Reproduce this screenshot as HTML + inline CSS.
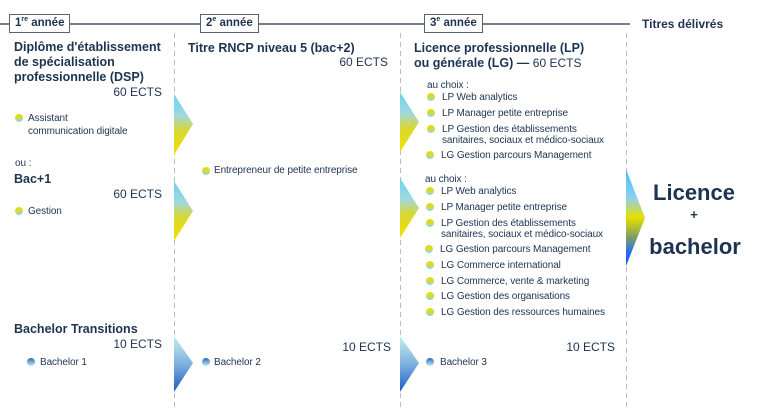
<!DOCTYPE html>
<html><head><meta charset="utf-8"><style>
body{margin:0;width:763px;height:409px;background:#fff;position:relative;overflow:hidden;font-family:"Liberation Sans",sans-serif;color:#1d3352}
.t{position:absolute;white-space:nowrap;line-height:14px}
.h{font-weight:bold;font-size:12.5px;line-height:15px}
.e{font-size:12px}
.i{font-size:10px;line-height:11px;letter-spacing:-0.1px}
.d{position:absolute;width:8px;height:8px;border-radius:50%;background:linear-gradient(#e6dc00 0%,#d8dc30 45%,#8fd3f0 100%)}
.b{background:linear-gradient(#2d69b9,#bfeef0)}
.box{position:absolute;border:1.5px solid #5a6270;background:#fff;font-size:11.5px;font-weight:bold;height:19px;line-height:16px;padding:0 5px;box-sizing:border-box;color:#1d3352}
</style></head><body>
<svg width="763" height="409" style="position:absolute;left:0;top:0">
<defs>
<linearGradient id="gy" x1="0" y1="0" x2="0" y2="1"><stop offset="0" stop-color="#6cd0f5"/><stop offset="0.35" stop-color="#9fd8e0"/><stop offset="0.6" stop-color="#d8d830"/><stop offset="1" stop-color="#f0e000"/></linearGradient>
<linearGradient id="gb" x1="0" y1="0" x2="0" y2="1"><stop offset="0" stop-color="#c4f0ea"/><stop offset="0.5" stop-color="#7fb0e0"/><stop offset="1" stop-color="#1c5cc0"/></linearGradient>
<linearGradient id="gf" x1="0" y1="0" x2="0" y2="1"><stop offset="0" stop-color="#40c0f8"/><stop offset="0.3" stop-color="#8fd0f0"/><stop offset="0.5" stop-color="#e6e000"/><stop offset="0.7" stop-color="#80a060"/><stop offset="0.85" stop-color="#2a70e8"/><stop offset="1" stop-color="#1050f0"/></linearGradient>
</defs>
<line x1="0" y1="24" x2="630" y2="24" stroke="#4a5568" stroke-width="1.5"/>
<g stroke="#bbb" stroke-dasharray="5,4" stroke-width="1">
<line x1="174.5" y1="33" x2="174.5" y2="409"/><line x1="400.5" y1="33" x2="400.5" y2="409"/><line x1="626.5" y1="33" x2="626.5" y2="409"/></g>
<polygon points="174,94 193,124 174,155" fill="url(#gy)"/>
<polygon points="174,181 193,211 174,241" fill="url(#gy)"/>
<polygon points="400,92 419,122 400,152" fill="url(#gy)"/>
<polygon points="400,178 419,208 400,238" fill="url(#gy)"/>
<polygon points="174,336 193,363 174,392" fill="url(#gb)"/>
<polygon points="400,336 419,363 400,392" fill="url(#gb)"/>
<polygon points="626,169 645,218 626,266" fill="url(#gf)"/>
</svg>
<div class="box" style="left:9px;top:14px">1<sup style="font-size:7px;line-height:0">re</sup> année</div>
<div class="box" style="left:200px;top:14px">2<sup style="font-size:7px;line-height:0">e</sup> année</div>
<div class="box" style="left:424px;top:14px">3<sup style="font-size:7px;line-height:0">e</sup> année</div>
<div class="t h" style="left:642px;top:17px;font-size:12px">Titres délivrés</div>

<div class="t h" style="left:14px;top:40px;line-height:15px">Diplôme d'établissement<br>de spécialisation<br>professionnelle (DSP)</div>
<div class="t e" style="right:601px;top:85px">60 ECTS</div>
<div class="d" style="left:15px;top:114px"></div>
<div class="t i" style="left:28px;top:112px;line-height:13px">Assistant<br>communication digitale</div>
<div class="t i" style="left:15px;top:158px">ou :</div>
<div class="t h" style="left:14px;top:172px">Bac+1</div>
<div class="t e" style="right:601px;top:187px">60 ECTS</div>
<div class="d" style="left:15px;top:207px"></div>
<div class="t i" style="left:28px;top:206px">Gestion</div>

<div class="t h" style="left:188px;top:41px">Titre RNCP niveau 5 (bac+2)</div>
<div class="t e" style="right:375px;top:55px">60 ECTS</div>
<div class="d" style="left:202px;top:167px"></div>
<div class="t i" style="left:214px;top:165px">Entrepreneur de petite entreprise</div>

<div class="t h" style="left:414px;top:41px;line-height:15px">Licence professionnelle (LP)<br>ou générale (LG) — <span style="font-weight:normal;font-size:12px">60 ECTS</span></div>
<div class="t i" style="left:427px;top:80px">au choix :</div>
<div class="d" style="left:427px;top:93px"></div><div class="t i" style="left:442px;top:92px">LP Web analytics</div>
<div class="d" style="left:427px;top:109px"></div><div class="t i" style="left:442px;top:108px">LP Manager petite entreprise</div>
<div class="d" style="left:427px;top:125px"></div><div class="t i" style="left:442px;top:124px">LP Gestion des établissements<br>sanitaires, sociaux et médico-sociaux</div>
<div class="d" style="left:426px;top:151px"></div><div class="t i" style="left:441px;top:150px">LG Gestion parcours Management</div>
<div class="t i" style="left:425px;top:174px">au choix :</div>
<div class="d" style="left:426px;top:187px"></div><div class="t i" style="left:441px;top:186px">LP Web analytics</div>
<div class="d" style="left:426px;top:203px"></div><div class="t i" style="left:441px;top:202px">LP Manager petite entreprise</div>
<div class="d" style="left:426px;top:219px"></div><div class="t i" style="left:441px;top:218px">LP Gestion des établissements<br>sanitaires, sociaux et médico-sociaux</div>
<div class="d" style="left:425px;top:245px"></div><div class="t i" style="left:440px;top:244px">LG Gestion parcours Management</div>
<div class="d" style="left:426px;top:261px"></div><div class="t i" style="left:441px;top:260px">LG Commerce international</div>
<div class="d" style="left:426px;top:277px"></div><div class="t i" style="left:441px;top:276px">LG Commerce, vente &amp; marketing</div>
<div class="d" style="left:426px;top:292px"></div><div class="t i" style="left:441px;top:291px">LG Gestion des organisations</div>
<div class="d" style="left:426px;top:308px"></div><div class="t i" style="left:441px;top:307px">LG Gestion des ressources humaines</div>

<div class="t h" style="left:14px;top:322px">Bachelor Transitions</div>
<div class="t e" style="right:601px;top:337px">10 ECTS</div>
<div class="d b" style="left:27px;top:358px"></div><div class="t i" style="left:40px;top:357px">Bachelor 1</div>
<div class="t e" style="right:372px;top:340px">10 ECTS</div>
<div class="d b" style="left:202px;top:358px"></div><div class="t i" style="left:214px;top:357px">Bachelor 2</div>
<div class="t e" style="right:148px;top:340px">10 ECTS</div>
<div class="d b" style="left:426px;top:358px"></div><div class="t i" style="left:440px;top:357px">Bachelor 3</div>

<div class="t" style="left:644px;top:180px;width:100px;text-align:center;font-weight:bold;font-size:22px;line-height:26px">Licence</div>
<div class="t" style="left:644px;top:208px;width:100px;text-align:center;font-weight:bold;font-size:13px">+</div>
<div class="t" style="left:643px;top:234px;width:104px;text-align:center;font-weight:bold;font-size:22px;line-height:26px">bachelor</div>
</body></html>
